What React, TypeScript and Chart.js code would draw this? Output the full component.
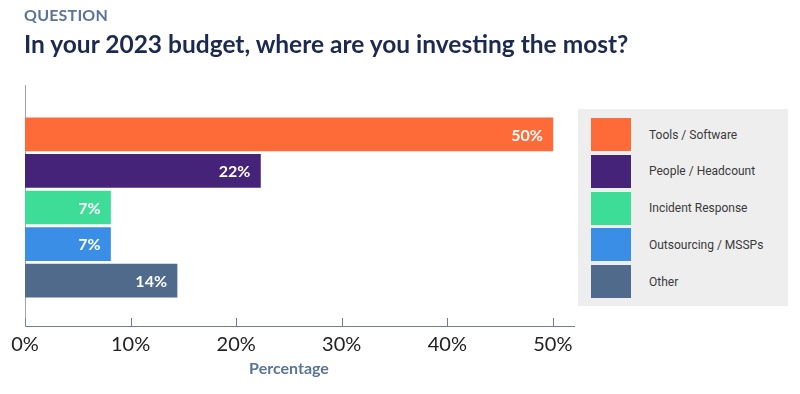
import React, { useEffect, useRef } from "react";
import { Chart, registerables } from "chart.js";

Chart.register(...registerables);

const categories = ["Tools / Software", "People / Headcount", "Incident Response", "Outsourcing / MSSPs", "Other"];
const values = [50, 22.3, 8.1, 8.1, 14.4];
const valueLabels = ["50%", "22%", "7%", "7%", "14%"];
const colors = ["#FF6A39", "#452378", "#3DDC97", "#3A8EE6", "#4F6A8A"];
const tickValues = [0, 10, 20, 30, 40, 50];

const FONT = "Lato, 'Open Sans', sans-serif";

const upTicks = {
  id: "upTicks",
  afterDraw(chart: any) {
    const sx = chart.scales.x;
    const { ctx, chartArea } = chart;
    ctx.save();
    ctx.strokeStyle = "#6E7E98";
    ctx.lineWidth = 1;
    tickValues.forEach((v) => {
      const px = Math.round(sx.getPixelForValue(v)) + 0.5;
      ctx.beginPath();
      ctx.moveTo(px, chartArea.bottom - 8);
      ctx.lineTo(px, chartArea.bottom);
      ctx.stroke();
    });
    ctx.restore();
  },
};

const barLabels = {
  id: "barLabels",
  afterDatasetsDraw(chart: any) {
    const { ctx } = chart;
    const meta = chart.getDatasetMeta(0);
    ctx.save();
    ctx.fillStyle = "#ffffff";
    ctx.font = `bold 16px ${FONT}`;
    ctx.textAlign = "right";
    ctx.textBaseline = "middle";
    meta.data.forEach((el: any, i: number) => {
      ctx.fillText(valueLabels[i], el.x - 10, el.y + 1);
    });
    ctx.restore();
  },
};

export default function App() {
  const ref = useRef<HTMLCanvasElement | null>(null);
  useEffect(() => {
    if (!ref.current) return;
    const chart = new Chart(ref.current, {
      type: "bar",
      data: {
        datasets: [
          {
            data: values.map((v, i) => ({ x: v, y: i })),
            backgroundColor: colors,
            borderWidth: 0,
            barThickness: 33,
          },
        ],
      },
      options: {
        indexAxis: "y",
        animation: false,
        responsive: false,
        maintainAspectRatio: false,
        layout: { padding: { top: 85, left: 25, right: 226, bottom: 30 } },
        plugins: { legend: { display: false }, tooltip: { enabled: false }, title: { display: false } },
        scales: {
          x: {
            type: "linear",
            min: 0,
            max: 52,
            position: "bottom",
            afterBuildTicks: (scale: any) => {
              scale.ticks = tickValues.map((v) => ({ value: v }));
            },
            ticks: {
              stepSize: 10,
              padding: 7,
              color: "#222222",
              font: { family: FONT, size: 20, weight: "normal" },
              callback: (v: any) => v + "%",
            },
            grid: { display: false, drawTicks: false },
            border: { display: true, color: "#6E7E98", width: 1 },
          },
          y: {
            type: "linear",
            reverse: true,
            offset: false,
            min: -1.35,
            max: 5.24,
            ticks: { display: false },
            grid: { display: false, drawTicks: false, offset: false },
            border: { display: true, color: "#A0A4AA", width: 1 },
          },
        },
      },
      plugins: [upTicks, barLabels],
    } as any);
    return () => chart.destroy();
  }, []);

  return (
    <div style={{ position: "fixed", left: 0, top: 0, width: 800, height: 394, background: "#fff", overflow: "hidden" }}>
      <canvas ref={ref} width={800} height={394} style={{ position: "absolute", left: 0, top: 0, width: 800, height: 394 }} />
      <div style={{ position: "absolute", left: 24, top: 5, fontFamily: FONT, fontWeight: 700, fontSize: 16, color: "#5A7598", letterSpacing: 0.2 }}>
        QUESTION
      </div>
      <div style={{ position: "absolute", left: 24, top: 29, fontFamily: FONT, fontWeight: 700, fontSize: 24.5, color: "#1B2A4E", whiteSpace: "nowrap" }}>
        In your 2023 budget, where are you investing the most?
      </div>
      <div style={{ position: "absolute", left: 189, width: 200, textAlign: "center", top: 358, fontFamily: FONT, fontWeight: 700, fontSize: 16, color: "#5A7598" }}>
        Percentage
      </div>
      <div style={{ position: "absolute", left: 578, top: 109, width: 210, height: 197, background: "#EEEEEE", boxSizing: "border-box", paddingTop: 9, paddingLeft: 13, display: "flex", flexDirection: "column", gap: 3.75 }}>
        {categories.map((c, i) => (
          <div key={c} style={{ display: "flex", alignItems: "center", height: 33 }}>
            <div style={{ width: 40, height: 33, background: colors[i], flex: "none" }} />
            <div style={{ marginLeft: 18, fontFamily: "Roboto, sans-serif", fontSize: 12, color: "#3a3a3a" }}>{c}</div>
          </div>
        ))}
      </div>
    </div>
  );
}
